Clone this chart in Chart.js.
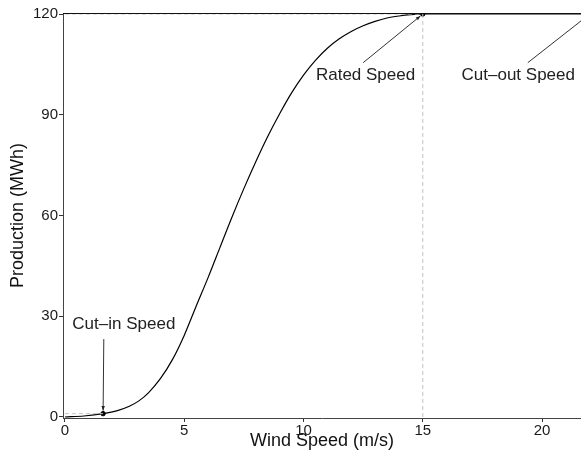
<!DOCTYPE html>
<html lang="en">
<head>
<meta charset="UTF-8">
<title>Wind Turbine Power Curve</title>
<script src="https://cdn.jsdelivr.net/npm/chart.js"></script>
<style>
    body { margin: 0; background: #fff; }
    #wrap { width: 581px; height: 458px; }
</style>
</head>
<body>
<div id="wrap"><canvas id="powerCurve" width="581" height="458"></canvas></div>
<script>
    // power curve: wind speed (m/s) vs production (MWh)
    const windSpeed = [0, 0.8, 1.6, 2.2, 2.7, 3.1, 3.5, 4, 4.5, 5, 5.5, 6, 6.5, 7, 7.5, 8, 8.5, 9, 9.5, 10, 10.5, 11, 11.5, 12, 12.5, 13, 13.5, 14, 14.5, 15, 22];
    const production = [0, 0.3, 1, 1.9, 3.2, 4.8, 7.2, 11.4, 17, 24.3, 33, 41.5, 50.5, 59.5, 68, 76, 83.5, 90.3, 96.5, 101.8, 106.2, 109.8, 112.6, 114.8, 116.5, 117.8, 118.8, 119.4, 119.8, 120, 120];

    const cutIn = { x: 1.6, y: 1 };
    const rated = { x: 15, y: 120 };
    const cutOut = { x: 22, y: 120 };

    const xTicks = [0, 5, 10, 15, 20];
    const yTicks = [0, 30, 60, 90, 120];

    // label text, label anchor and arrow start (data units), arrow target
    const notes = [
        { text: 'Cut\u2013in Speed', at: [2.47, 27.6], from: [1.63, 23.2], to: cutIn },
        { text: 'Rated Speed', at: [12.6, 101.8], from: [12.5, 105.5], to: rated },
        { text: 'Cut\u2013out Speed', at: [19.0, 101.8], from: [19.4, 105.5], to: cutOut }
    ];

    const FONT = '"Liberation Sans", Arial, Helvetica, sans-serif';
    const guide = '#c4c4c4';

    function pts(xs, ys) { return xs.map((x, i) => ({ x: x, y: ys[i] })); }

    // top border + annotation arrows and labels
    const decor = {
        id: 'decor',
        afterDatasetsDraw(chart) {
            const c = chart.ctx, a = chart.chartArea;
            const sx = chart.scales.x, sy = chart.scales.y;
            c.save();
            c.strokeStyle = '#111';
            c.lineWidth = 1.2;
            c.beginPath();
            c.moveTo(a.left, a.top + 0.5);
            c.lineTo(a.right, a.top + 0.5);
            c.stroke();

            c.font = '17px ' + FONT;
            c.textAlign = 'center';
            c.textBaseline = 'middle';
            notes.forEach(n => {
                c.fillStyle = '#222';
                c.fillText(n.text, sx.getPixelForValue(n.at[0]), sy.getPixelForValue(n.at[1]));
                const x0 = sx.getPixelForValue(n.from[0]), y0 = sy.getPixelForValue(n.from[1]);
                const x1 = sx.getPixelForValue(n.to.x), y1 = sy.getPixelForValue(n.to.y);
                const ang = Math.atan2(y1 - y0, x1 - x0);
                // stop a little short of the point
                const tx = x1 - Math.cos(ang) * 3, ty = y1 - Math.sin(ang) * 3;
                c.strokeStyle = '#333';
                c.lineWidth = 1;
                c.beginPath();
                c.moveTo(x0, y0);
                c.lineTo(tx, ty);
                c.stroke();
                c.beginPath();
                c.moveTo(tx, ty);
                c.lineTo(tx - 5 * Math.cos(ang - 0.35), ty - 5 * Math.sin(ang - 0.35));
                c.lineTo(tx - 5 * Math.cos(ang + 0.35), ty - 5 * Math.sin(ang + 0.35));
                c.closePath();
                c.fill();
            });
            c.restore();
        }
    };

    new Chart(document.getElementById('powerCurve'), {
        type: 'line',
        data: {
            datasets: [
                {
                    data: [{ x: 0, y: rated.y }, { x: rated.x, y: rated.y }],
                    borderColor: guide, borderWidth: 1, borderDash: [4, 3],
                    pointRadius: 0
                },
                {
                    data: [{ x: rated.x, y: 0 }, { x: rated.x, y: rated.y }],
                    borderColor: guide, borderWidth: 1, borderDash: [4, 3],
                    pointRadius: 0
                },
                {
                    data: [{ x: 0, y: cutIn.y }, { x: cutIn.x, y: cutIn.y }],
                    borderColor: guide, borderWidth: 1, borderDash: [4, 3],
                    pointRadius: 0
                },
                {
                    data: pts(windSpeed, production),
                    borderColor: '#000', borderWidth: 1.2,
                    cubicInterpolationMode: 'monotone',
                    pointRadius: 0
                },
                {
                    data: [cutIn, rated],
                    showLine: false,
                    pointRadius: 2.2,
                    pointBackgroundColor: '#000',
                    pointBorderColor: '#000'
                }
            ]
        },
        options: {
            responsive: false,
            animation: false,
            layout: { autoPadding: false, padding: { top: 13, right: 0, left: 0, bottom: 0 } },
            plugins: { legend: { display: false }, tooltip: { enabled: false } },
            scales: {
                x: {
                    type: 'linear',
                    min: -0.08, max: 21.63,
                    afterBuildTicks: s => { s.ticks = xTicks.map(v => ({ value: v })); },
                    afterFit: s => { s.height = 40; },
                    grid: { drawOnChartArea: false, tickLength: 4, color: '#333' },
                    border: { display: true, color: '#444', width: 1 },
                    ticks: {
                        color: '#1a1a1a', padding: 0, maxRotation: 0,
                        font: { family: FONT, size: 15 }
                    },
                    title: {
                        display: true, text: 'Wind Speed (m/s)', color: '#111',
                        font: { family: FONT, size: 18 }, padding: { top: 0, bottom: 6 }
                    }
                },
                y: {
                    min: -0.3, max: 120.3,
                    afterBuildTicks: s => { s.ticks = yTicks.map(v => ({ value: v })); },
                    afterFit: s => { s.width = 63; },
                    grid: { drawOnChartArea: false, tickLength: 4, color: '#333' },
                    border: { display: true, color: '#444', width: 1 },
                    ticks: {
                        color: '#1a1a1a', padding: 1,
                        font: { family: FONT, size: 15 }
                    },
                    title: {
                        display: true, text: 'Production (MWh)', color: '#111',
                        font: { family: FONT, size: 18 }, padding: { top: 7, bottom: 0 }
                    }
                }
            }
        },
        plugins: [decor]
    });
</script>
</body>
</html>
